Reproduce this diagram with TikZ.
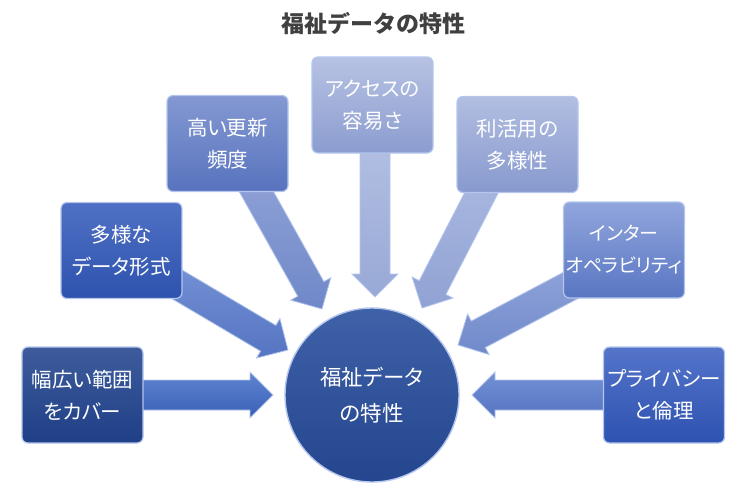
\documentclass[tikz,border=0pt]{standalone}
\usepackage{fontspec}
\setmainfont{Noto Sans CJK JP}
\newfontfamily\propfont[RawFeature=+palt]{Noto Sans CJK JP}
\usetikzlibrary{calc}
\pgfdeclarelayer{bg}
\pgfsetlayers{bg,main}
\definecolor{titlec}{HTML}{404040}
\definecolor{edgec}{HTML}{B4C6EE}
\definecolor{b1t}{HTML}{3E5C9C}\definecolor{b1b}{HTML}{1F3F87}
\definecolor{b2t}{HTML}{4F70C4}\definecolor{b2b}{HTML}{2E53AE}
\definecolor{b3t}{HTML}{8499D2}\definecolor{b3b}{HTML}{5873BE}
\definecolor{b4t}{HTML}{B7C2E3}\definecolor{b4b}{HTML}{8B9CCF}
\definecolor{b5t}{HTML}{B2BEE1}\definecolor{b5b}{HTML}{8799CE}
\definecolor{b6t}{HTML}{91A6DD}\definecolor{b6b}{HTML}{5976C2}
\definecolor{b7t}{HTML}{5574CA}\definecolor{b7b}{HTML}{2D52B0}
\definecolor{ct}{HTML}{3F61A8}\definecolor{cb}{HTML}{24468E}
\definecolor{a1t}{HTML}{5F84D2}\definecolor{a1b}{HTML}{3A60B6}
\definecolor{a2t}{HTML}{7390D4}\definecolor{a2b}{HTML}{5574C2}
\definecolor{a3t}{HTML}{8EA1D6}\definecolor{a3b}{HTML}{6F88C8}
\definecolor{a4t}{HTML}{B2BEE2}\definecolor{a4b}{HTML}{98A9D6}
\definecolor{a5t}{HTML}{AAB8DF}\definecolor{a5b}{HTML}{90A2D4}
\definecolor{a6t}{HTML}{8EA3D9}\definecolor{a6b}{HTML}{7089CA}
\definecolor{a7t}{HTML}{7391D4}\definecolor{a7b}{HTML}{5573C2}
\tikzset{
  box/.style={rectangle, rounded corners=6pt, minimum width=121pt, minimum height=96pt,
    inner sep=0pt, align=center, text=white, font=\propfont\fontsize{20.5}{32}\selectfont,
    draw=edgec, line width=1.2pt},
  hub/.style={circle, minimum size=174pt, inner sep=0pt, align=center, text=white,
    font=\propfont\fontsize{21.5}{36}\selectfont, draw=edgec, line width=1.4pt,
    top color=ct, bottom color=cb},
  barrow/.style={draw=edgec, line width=0.8pt, line join=miter},
  titletext/.style={font=\bfseries\fontsize{23}{27}\selectfont, text=titlec}
}
\newcommand\blockarrow[3]{%
  \coordinate (hb) at ($(#2)!23pt!(#1)$);
  \shadedraw[barrow,#3] ($(#1)!15pt!90:(#2)$) -- ($(hb)!15pt!90:(#2)$) -- ($(hb)!23pt!90:(#2)$)
    -- (#2) -- ($(hb)!23pt!-90:(#2)$) -- ($(hb)!15pt!-90:(#2)$) -- ($(#1)!15pt!-90:(#2)$) -- cycle;}
\begin{document}
\begin{tikzpicture}[x=1pt,y=-1pt]
\useasboundingbox (0,0) rectangle (743,495);
\node[titletext] (title) at (373,24) {福祉データの特性};
\node[hub] (c) at (372,395) {福祉データ\\の特性};
\node[box, top color=b1t, bottom color=b1b] (b1) at (82.5,395) {幅広い範囲\\をカバー};
\node[box, top color=b2t, bottom color=b2b] (b2) at (121.5,250.5) {多様な\\データ形式};
\node[box, top color=b3t, bottom color=b3b] (b3) at (227.5,143.5) {高い更新\\頻度};
\node[box, top color=b4t, bottom color=b4b] (b4) at (372.5,105) {アクセスの\\容易さ};
\node[box, top color=b5t, bottom color=b5b] (b5) at (517.5,144.5) {利活用の\\多様性};
\node[box, top color=b6t, bottom color=b6b, font=\propfont\fontsize{19}{32}\selectfont] (b6) at (624,250) {インター\\オペラビリティ};
\node[box, top color=b7t, bottom color=b7b] (b7) at (664,395) {プライバシー\\と倫理};
% arrow ends
\coordinate (s1) at (135,395);  \coordinate (t1) at (273,395);
\coordinate (s2) at (168,279);  \coordinate (t2) at (288,350);
\coordinate (s3) at (251,182);  \coordinate (t3) at (322,309);
\coordinate (s4) at (375,145);  \coordinate (t4) at (375,297);
\coordinate (s5) at (487,182);  \coordinate (t5) at (422,308);
\coordinate (s6) at (579,281);  \coordinate (t6) at (458,345);
\coordinate (s7) at (611,395);  \coordinate (t7) at (472,395);
\begin{pgfonlayer}{bg}
\blockarrow{s1}{t1}{top color=a1t, bottom color=a1b}
\blockarrow{s2}{t2}{top color=a2t, bottom color=a2b}
\blockarrow{s3}{t3}{top color=a3t, bottom color=a3b}
\blockarrow{s4}{t4}{top color=a4t, bottom color=a4b}
\blockarrow{s5}{t5}{top color=a5t, bottom color=a5b}
\blockarrow{s6}{t6}{top color=a6t, bottom color=a6b}
\blockarrow{s7}{t7}{top color=a7t, bottom color=a7b}
\end{pgfonlayer}
\end{tikzpicture}
\end{document}
